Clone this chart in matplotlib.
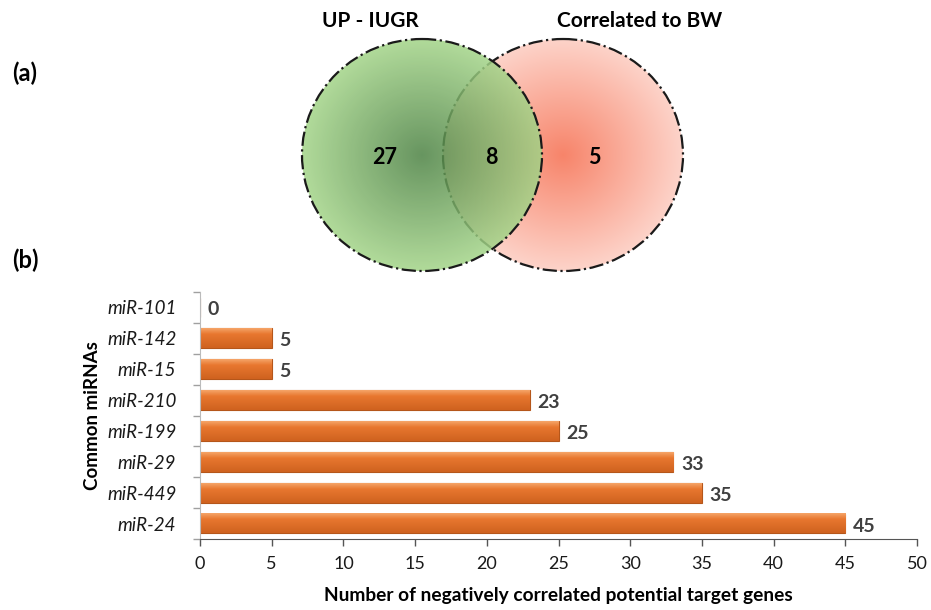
import matplotlib
matplotlib.use("Agg")
from matplotlib import pyplot as plt
from matplotlib.patches import Ellipse
from matplotlib.colors import to_rgb
import numpy as np

plt.rcParams['font.family'] = ['Lato', 'DejaVu Sans']

# venn counts
venn_sets = ['UP - IUGR', 'Correlated to BW']
venn_only_left = 27
venn_both = 8
venn_only_right = 5

# bar data (top to bottom)
mirnas = ['miR-101', 'miR-142', 'miR-15', 'miR-210', 'miR-199', 'miR-29', 'miR-449', 'miR-24']
targets = [0, 5, 5, 23, 25, 33, 35, 45]

W, H = 931, 610
fig = plt.figure(figsize=(W / 100, H / 100), dpi=100)

# ---- (a) venn, drawn in pixel space ----
va = fig.add_axes([0, 0, 1, 1])
va.set_xlim(0, W)
va.set_ylim(H, 0)
va.axis('off')


def radial_img(c_in, c_out, alpha):
    n = 200
    yy, xx = np.mgrid[-1:1:n * 1j, -1:1:n * 1j]
    r = np.clip(np.sqrt(xx ** 2 + yy ** 2), 0, 1)[..., None]
    a, b = np.array(to_rgb(c_in)), np.array(to_rgb(c_out))
    rgb = a * (1 - r) + b * r
    img = np.dstack([rgb, np.full((n, n), alpha)])
    return img


def gradient_circle(cx, cy, rx, ry, c_in, c_out, alpha, z):
    circ = Ellipse((cx, cy), 2 * rx, 2 * ry, facecolor='none', edgecolor='none')
    va.add_patch(circ)
    im = va.imshow(radial_img(c_in, c_out, alpha), extent=[cx - rx, cx + rx, cy + ry, cy - ry],
                   zorder=z, interpolation='bilinear')
    im.set_clip_path(circ)
    edge = Ellipse((cx, cy), 2 * rx, 2 * ry, facecolor='none', edgecolor='#1a1a1a',
                   lw=1.6, ls='-.', zorder=z + 0.5)
    va.add_patch(edge)


gradient_circle(563, 155, 120, 116, '#f7846a', '#fdd3c9', 1.0, 1)
gradient_circle(422, 155, 120, 116, '#4c8243', '#a3d488', 0.85, 3)
va.set_xlim(0, W)
va.set_ylim(H, 0)
va.set_aspect('auto')

va.text(370, 21, venn_sets[0], ha='center', va='center', fontsize=15, fontweight='bold')
va.text(640, 21, venn_sets[1], ha='center', va='center', fontsize=15, fontweight='bold')
for x, v in [(385, venn_only_left), (491, venn_both), (594, venn_only_right)]:
    va.text(x, 157, str(v), ha='center', va='center', fontsize=15.5, fontweight='bold', zorder=10)
va.text(25, 73, '(a)', ha='center', va='center', fontsize=17, fontweight='bold')
va.text(25, 260, '(b)', ha='center', va='center', fontsize=17, fontweight='bold')

# ---- (b) bar chart ----
ax = fig.add_axes([200 / W, 1 - 539 / H, 717 / W, 247 / H])
ypos = np.arange(len(mirnas))
bh = 0.64
ax.barh(ypos, targets, height=bh, color='#e2722c', edgecolor='#b5561a', lw=0.8, zorder=2)
# shading on each bar
shade = np.linspace(0, 1, 50)[:, None]
top_c, mid_c, bot_c = np.array(to_rgb('#f5a468')), np.array(to_rgb('#e8772f')), np.array(to_rgb('#cf621f'))
grad = np.where(shade < 0.3, top_c * (1 - shade / 0.3) + mid_c * (shade / 0.3),
                mid_c * (1 - (shade - 0.3) / 0.7) + bot_c * ((shade - 0.3) / 0.7))
grad = grad.reshape(50, 1, 3)
for y, v in zip(ypos, targets):
    if v > 0:
        ax.imshow(grad, extent=[0, v, y + bh / 2, y - bh / 2], aspect='auto', zorder=2.5,
                  interpolation='bilinear')
    ax.text(v + 0.55, y + 0.08, str(v), ha='left', va='center', fontsize=14,
            fontweight='bold', color='#404040')

ax.set_xlim(0, 50)
ax.set_ylim(len(mirnas) - 0.5, -0.5)
ax.set_xticks(np.arange(0, 51, 5))
ax.set_yticks(ypos)
ax.set_yticklabels(mirnas, fontstyle='italic', fontsize=13.5)
ax.set_yticks(np.arange(-0.5, len(mirnas), 1), minor=True)
ax.tick_params(axis='y', which='major', length=0, pad=17, colors='#1a1a1a')
ax.tick_params(axis='y', which='minor', length=5, color='#a0a0a0', width=1)
ax.tick_params(axis='x', length=5, color='#555555', width=1, labelsize=13, pad=7,
               colors='#1a1a1a')
ax.tick_params(axis='x', color='#555555')
for s in ['top', 'right']:
    ax.spines[s].set_visible(False)
ax.spines['left'].set_color('#bbbbbb')
ax.spines['bottom'].set_color('#555555')
ax.set_xlabel('Number of negatively correlated potential target genes', fontsize=13.8,
              fontweight='bold', labelpad=11)
ax.set_ylabel('Common miRNAs', fontsize=13.5, fontweight='bold', labelpad=4)

fig.savefig('out.png', dpi=100)
